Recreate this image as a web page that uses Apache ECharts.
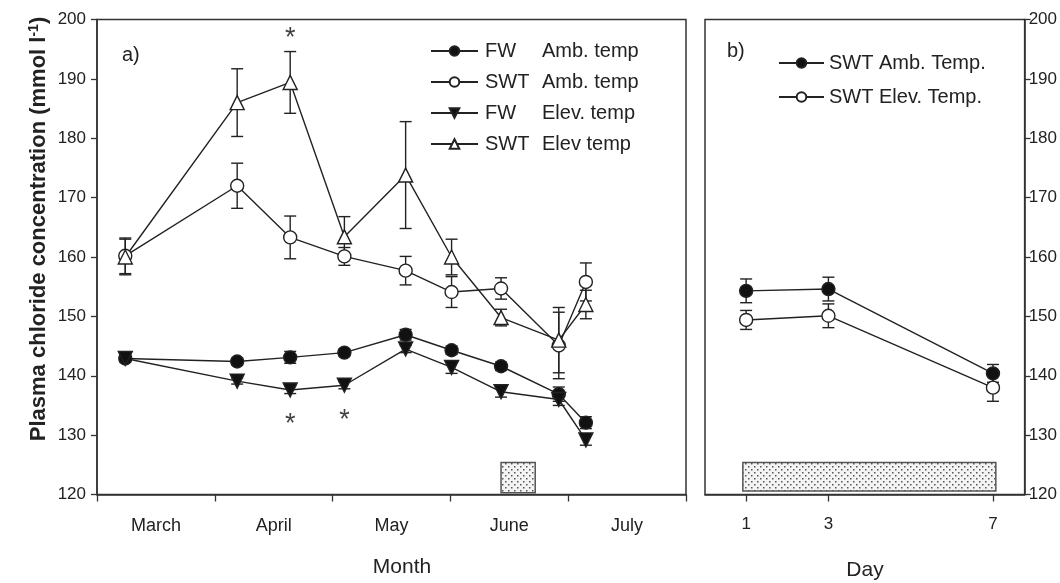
<!DOCTYPE html>
<html>
<head>
<meta charset="utf-8">
<script src="https://cdn.jsdelivr.net/npm/echarts@6/dist/echarts.min.js"></script>
<style>
  html, body { margin: 0; padding: 0; background: #fff; }
  #chart { width: 1060px; height: 583px; }
</style>
</head>
<body>
<div id="chart"></div>
<script>
// panel a: sampling dates, in months after 1 March
var months = ['March', 'April', 'May', 'June', 'July'];
var monthX = [0.24, 1.19, 1.64, 2.10, 2.62, 3.01, 3.43, 3.92, 4.15];
var fwAmb = [142.9, 142.4, 143.1, 143.9, 146.9, 144.3, 141.6, 136.9, 132.1];
var fwAmbErr = [0.6, 0.6, 1.0, 0.6, 0.9, 0.7, 0.7, 1.2, 1.0];
var swtAmb = [160.2, 172.0, 163.3, 160.1, 157.7, 154.1, 154.7, 145.1, 155.8];
var swtAmbErr = [3.0, 3.8, 3.6, 1.5, 2.4, 2.6, 1.8, 5.6, 3.2];
var fwElev = [142.9, 139.1, 137.6, 138.4, 144.5, 141.4, 137.3, 136.0, 129.2];
var fwElevErr = [0.5, 0.5, 0.6, 0.6, 0.6, 1.0, 0.9, 1.0, 0.9];
var swtElev = [160.0, 186.0, 189.4, 163.4, 173.8, 160.0, 149.8, 146.0, 152.0];
var swtElevErr = [3.0, 5.7, 5.2, 3.4, 9.0, 3.0, 1.4, 5.5, 2.4];
var starsA = [[1.64, 197.9], [1.64, 132.9], [2.10, 133.7]];
var boxA = [[3.43, 120.3], [3.72, 125.4]];

// panel b: days
var days = [1, 3, 7];
var bAmb = [154.3, 154.6, 140.4];
var bAmbErr = [2.0, 2.0, 1.5];
var bElev = [149.4, 150.1, 138.0];
var bElevErr = [1.6, 2.0, 2.3];
var boxB = [[0.92, 120.6], [7.07, 125.4]];

var yTicks = [120, 200, 10]; // min, max, step

var ink = '#222';
var font = 'Arial, "Liberation Sans", sans-serif';

// stipple pattern for the boxes
var pc = document.createElement('canvas');
pc.width = 6; pc.height = 6;
var pctx = pc.getContext('2d');
pctx.fillStyle = '#f4f4f4';
pctx.fillRect(0, 0, 6, 6);
pctx.fillStyle = '#555';
pctx.fillRect(1, 1, 1.5, 1.5);
pctx.fillRect(4, 4, 1.5, 1.5);

function pairs(xs, ys) {
    return xs.map(function(x, i) { return [x, ys[i]]; });
}
function triples(xs, ys, es) {
    return xs.map(function(x, i) { return [x, ys[i], es[i]]; });
}

function renderErr(params, api) {
    var x = api.value(0), y = api.value(1), e = api.value(2);
    var top = api.coord([x, y + e]);
    var bot = api.coord([x, y - e]);
    var w = 6;
    var st = { stroke: ink, lineWidth: 1.4 };
    return {
        type: 'group',
        children: [
            { type: 'line', shape: { x1: top[0], y1: top[1], x2: bot[0], y2: bot[1] }, style: st },
            { type: 'line', shape: { x1: top[0] - w, y1: top[1], x2: top[0] + w, y2: top[1] }, style: st },
            { type: 'line', shape: { x1: bot[0] - w, y1: bot[1], x2: bot[0] + w, y2: bot[1] }, style: st }
        ]
    };
}

function errSeries(idx, xs, ys, es) {
    return {
        type: 'custom',
        xAxisIndex: idx, yAxisIndex: idx,
        renderItem: renderErr,
        data: triples(xs, ys, es),
        z: 1,
        silent: true
    };
}

function lineSeries(name, idx, xs, ys, sym, filled, rot) {
    return {
        name: name,
        type: 'line',
        xAxisIndex: idx, yAxisIndex: idx,
        data: pairs(xs, ys),
        symbol: sym,
        symbolSize: sym == 'circle' ? 13 : 14,
        symbolRotate: rot || 0,
        lineStyle: { color: ink, width: 1.4 },
        itemStyle: { color: filled ? '#111' : '#fff', borderColor: ink, borderWidth: 1.4 },
        z: 3,
        animation: false
    };
}

function boxMark(box) {
    return {
        silent: true,
        itemStyle: { color: { image: pc, repeat: 'repeat' }, borderColor: '#555', borderWidth: 1.5 },
        data: [[{ coord: box[0] }, { coord: box[1] }]]
    };
}

function yAxisDef(idx, pos) {
    return {
        type: 'value', gridIndex: idx, position: pos,
        min: yTicks[0], max: yTicks[1], interval: yTicks[2],
        axisLine: { show: true, onZero: false, lineStyle: { color: '#333', width: 1.5 } },
        axisTick: { show: true, length: 6, lineStyle: { color: '#333', width: 1.3 } },
        axisLabel: { color: ink, fontSize: 17, fontFamily: font, margin: pos == 'right' ? 4 : 11 },
        splitLine: { show: false }
    };
}

var legendText = { color: ink, fontSize: 20, fontFamily: font, lineHeight: 22 };

var chart = echarts.init(document.getElementById('chart'));
var a = lineSeries('FW Amb. temp', 0, monthX, fwAmb, 'circle', true);
a.markArea = boxMark(boxA);
var bA = lineSeries('SWT Amb. Temp.', 1, days, bAmb, 'circle', true);
bA.markArea = boxMark(boxB);

var option = {
    backgroundColor: '#fff',
    animation: false,
    grid: [
        { left: 97, top: 19.5, width: 589, height: 475, show: true, borderColor: '#333', borderWidth: 1.5 },
        { left: 705, top: 19.5, width: 320, height: 475, show: true, borderColor: '#333', borderWidth: 1.5 }
    ],
    xAxis: [
        {
            type: 'value', gridIndex: 0, min: 0, max: 5,
            axisLine: { show: true, onZero: false, lineStyle: { color: '#333', width: 1.5 } },
            axisTick: { show: true, length: 7, customValues: [0, 1, 2, 3, 4, 5], lineStyle: { color: '#333', width: 1.3 } },
            axisLabel: {
                color: ink, fontSize: 18, fontFamily: font, margin: 23,
                customValues: [0.5, 1.5, 2.5, 3.5, 4.5],
                formatter: function(v) { return months[Math.round(v - 0.5)] || ''; }
            },
            splitLine: { show: false }
        },
        {
            type: 'value', gridIndex: 1, min: 0, max: 7.77,
            axisLine: { show: true, onZero: false, lineStyle: { color: '#333', width: 1.5 } },
            axisTick: { show: true, length: 7, customValues: days, lineStyle: { color: '#333', width: 1.3 } },
            axisLabel: { color: ink, fontSize: 17, fontFamily: font, margin: 21, customValues: days },
            splitLine: { show: false }
        }
    ],
    yAxis: [yAxisDef(0, 'left'), yAxisDef(1, 'right')],
    legend: [
        {
            data: ['FW Amb. temp', 'SWT Amb. temp', 'FW Elev. temp', 'SWT Elev temp'],
            orient: 'vertical', left: 425, top: 35,
            itemWidth: 47, itemHeight: 12, itemGap: 9,
            selectedMode: false,
            formatter: function(n) {
                var p = n.split(' ');
                return '{a|' + p[0] + '}{b|' + p.slice(1).join(' ') + '}';
            },
            textStyle: {
                color: ink, fontSize: 20, fontFamily: font, lineHeight: 22,
                rich: {
                    a: { width: 57, fontSize: 20, fontFamily: font, color: ink, lineHeight: 22, padding: [0, 0, 0, 2] },
                    b: { fontSize: 20, fontFamily: font, color: ink, lineHeight: 22 }
                }
            }
        },
        {
            data: ['SWT Amb. Temp.', 'SWT Elev. Temp.'],
            orient: 'vertical', left: 773, top: 47,
            itemWidth: 45, itemHeight: 12, itemGap: 12,
            selectedMode: false,
            textStyle: legendText
        }
    ],
    graphic: [
        { type: 'text', left: 122, top: 45, style: { text: 'a)', fontSize: 20, fontFamily: font, fill: ink } },
        { type: 'text', left: 727, top: 41, style: { text: 'b)', fontSize: 20, fontFamily: font, fill: ink } },
        { type: 'text', x: 402, y: 567, style: { text: 'Month', fontSize: 21, fontFamily: font, fill: ink, align: 'center', verticalAlign: 'middle' } },
        { type: 'text', x: 865, y: 570, style: { text: 'Day', fontSize: 21, fontFamily: font, fill: ink, align: 'center', verticalAlign: 'middle' } },
        {
            type: 'text', x: 39, y: 229, rotation: Math.PI / 2,
            style: {
                text: 'Plasma chloride concentration (mmol l{sup|-1})',
                fontSize: 22, fontWeight: 'bold', fontFamily: font, fill: ink,
                align: 'center', verticalAlign: 'middle',
                rich: { sup: { fontSize: 14, fontWeight: 'bold', fontFamily: font, fill: ink, verticalAlign: 'top', padding: [0, 0, 10, 0] } }
            }
        }
    ],
    series: [
        errSeries(0, monthX, fwAmb, fwAmbErr),
        errSeries(0, monthX, swtAmb, swtAmbErr),
        errSeries(0, monthX, fwElev, fwElevErr),
        errSeries(0, monthX, swtElev, swtElevErr),
        errSeries(1, days, bAmb, bAmbErr),
        errSeries(1, days, bElev, bElevErr),
        a,
        lineSeries('SWT Amb. temp', 0, monthX, swtAmb, 'circle', false),
        lineSeries('FW Elev. temp', 0, monthX, fwElev, 'triangle', true, 180),
        lineSeries('SWT Elev temp', 0, monthX, swtElev, 'triangle', false),
        bA,
        lineSeries('SWT Elev. Temp.', 1, days, bElev, 'circle', false),
        {
            type: 'scatter', xAxisIndex: 0, yAxisIndex: 0,
            data: starsA, symbolSize: 1, itemStyle: { color: 'rgba(0,0,0,0)' },
            label: { show: true, position: 'inside', formatter: '*', fontSize: 27, fontFamily: font, color: '#111', offset: [0, 7] },
            z: 5,
            silent: true
        }
    ]
};
chart.setOption(option);
</script>
</body>
</html>
